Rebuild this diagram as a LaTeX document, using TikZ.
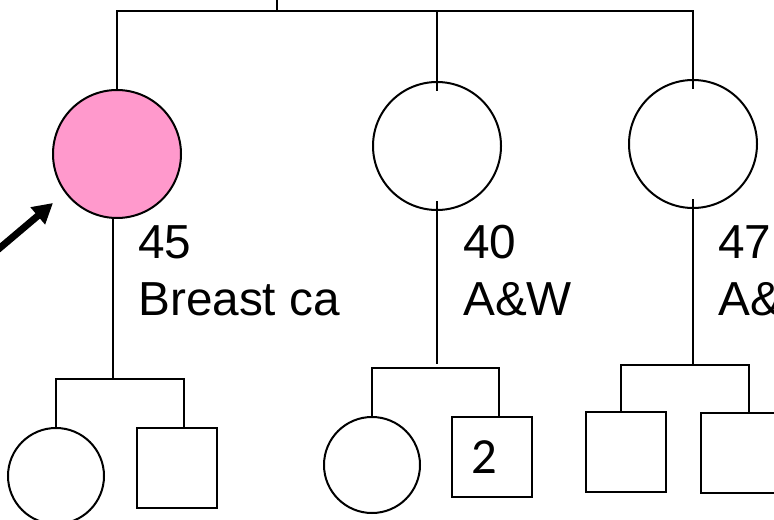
\documentclass[tikz,border=0pt]{standalone}
\usepackage{fontspec}
\setmainfont{Liberation Sans}
\newfontfamily\calfont{Carlito}
\usetikzlibrary{arrows.meta}
\definecolor{pinkc}{HTML}{FF99CC}
\tikzset{
  person/.style={draw=black, line width=1.5pt, inner sep=0pt, outer sep=0pt},
  female/.style={person, circle, minimum size=#1},
  male/.style={person, rectangle, minimum width=#1, minimum height=#1},
  lbl/.style={anchor=base west, inner sep=0pt, font=\fontsize{35.8pt}{42pt}\selectfont},
  link/.style={line width=1.5pt, line cap=rect},
  pointer/.style={line width=5.2pt, -{Triangle[length=15pt,width=16pt]}}
}
\begin{document}
\begin{tikzpicture}[x=0.75pt,y=-0.75pt]
\useasboundingbox (0,0) rectangle (774,520);
% generation II
\node[female=96pt, fill=pinkc] (c1) at (117,154) {};
\node[female=96pt, fill=white] (c2) at (437,146) {};
\node[female=96pt, fill=white] (c3) at (693,144) {};
% generation III
\node[female=72pt] (d1) at (56,476) {};
\node[male=60pt] (s1) at (176.5,468) {};
\node[female=72pt] (d2) at (372,465) {};
\node[male=60pt, font=\calfont\fontsize{38pt}{40pt}\selectfont] (s2) at (492,457) {\hspace*{-12pt}2};
\node[male=60pt] (s3) at (626,452) {};
\node[male=60pt] (s4) at (741,453) {};
% sibship line at top
\coordinate (t0) at (277,-2);
\coordinate (t1) at (277,11);
\draw[link] (t0) -- (t1);
\draw[link] (c1.north |- t1) -- (c3.north |- t1);
\draw[link] (c1.north |- t1) -- (c1.north);
\draw[link] (c2.north |- t1) -- ([yshift=-6pt]c2.north);
\draw[link] (c3.north |- t1) -- ([yshift=-6pt]c3.north);
% family 1
\coordinate (f1) at (113,379);
\coordinate (h1a) at (56,379);
\coordinate (h1b) at (184,379);
\draw[link] (f1 |- c1.south) -- (f1);
\draw[link] (h1a |- d1.north) -- (h1a) -- (h1b) -- (h1b |- s1.north);
% family 2
\coordinate (f2) at (437,363);
\coordinate (h2a) at (372,368);
\coordinate (h2b) at (499,368);
\draw[link] ([yshift=6pt]c2.south) -- (f2);
\draw[link] (d2.north) -- (h2a) -- (h2b) -- (h2b |- s2.north);
% family 3
\coordinate (f3) at (693,365);
\coordinate (h3a) at (621,365);
\coordinate (h3b) at (749,365);
\draw[link] ([yshift=6pt]c3.south) -- (f3);
\draw[link] (h3a |- s3.north) -- (h3a) -- (h3b) -- (h3b |- s4.north);
% labels
\node[lbl] (l1a) at (138,258) {45};
\node[lbl] (l1b) at (138,315) {Breast ca};
\node[lbl] (l2a) at (463,258) {40};
\node[lbl] (l2b) at (463,315) {A\&W};
\node[lbl] (l3a) at (718,258) {47};
\node[lbl] (l3b) at (718,315) {A\&W};
% proband arrow
\coordinate (a0) at (-12,258);
\coordinate (a1) at (53,203);
\draw[pointer] (a0) -- (a1);
\end{tikzpicture}
\end{document}
